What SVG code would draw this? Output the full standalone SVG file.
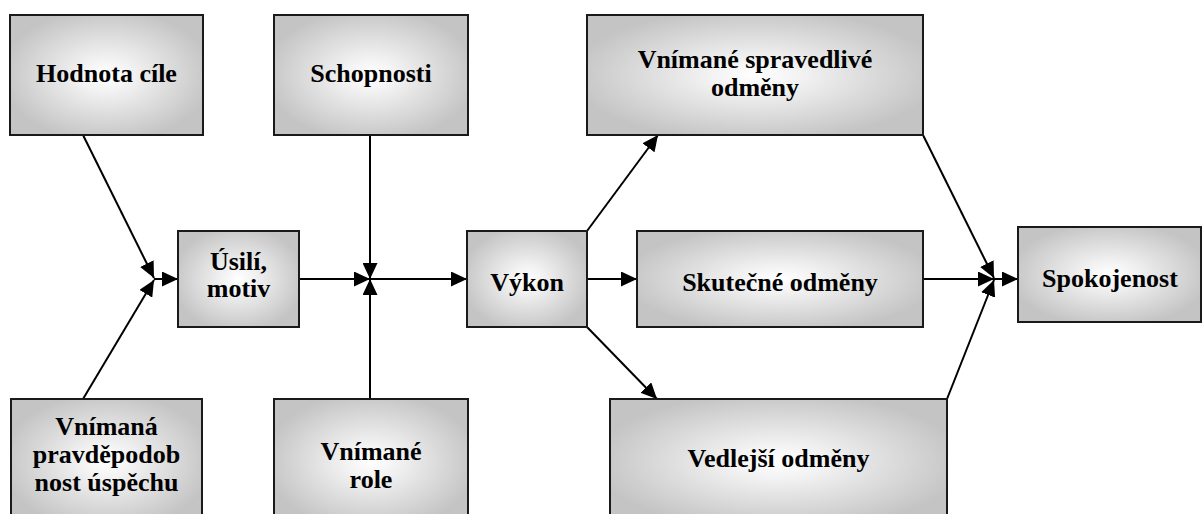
<svg xmlns="http://www.w3.org/2000/svg" width="1203" height="514" viewBox="0 0 1203 514">
  <style>
    .box { fill: url(#g); stroke: #1a1a1a; stroke-width: 2; }
    text { font-family: 'Liberation Serif', 'Tinos', 'Times New Roman', 'DejaVu Serif', serif; font-weight: 700; font-size: 26px; fill: #000; text-anchor: middle; }
    .c { stroke: #000; stroke-width: 2; fill: none; marker-end: url(#a); }
  </style>
  <defs>
    <radialGradient id="g" cx="0.5" cy="0.5" r="0.55">
      <stop offset="0" stop-color="#ffffff"/>
      <stop offset="0.25" stop-color="#f2f2f2"/>
      <stop offset="1" stop-color="#c4c4c4"/>
    </radialGradient>
    <marker id="a" markerUnits="userSpaceOnUse" markerWidth="16" markerHeight="15" refX="16" refY="7.5" orient="auto">
      <path d="M0,0 L16,7.5 L0,15 z" fill="#000"/>
    </marker>
  </defs>

  <g id="connectors">
    <line class="c" x1="83" y1="135" x2="154" y2="278"/>
    <line class="c" x1="83" y1="399" x2="154" y2="280"/>
    <line class="c" x1="154" y1="279" x2="178" y2="279"/>
    <line class="c" x1="299" y1="279" x2="370" y2="279"/>
    <line class="c" x1="370" y1="135" x2="370" y2="279"/>
    <line class="c" x1="370" y1="399" x2="370" y2="279"/>
    <line class="c" x1="370" y1="279" x2="467" y2="279"/>
    <line class="c" x1="587" y1="231" x2="658" y2="135"/>
    <line class="c" x1="587" y1="279" x2="637" y2="279"/>
    <line class="c" x1="587" y1="327" x2="657" y2="399"/>
    <line class="c" x1="923" y1="135" x2="994" y2="278"/>
    <line class="c" x1="923" y1="279" x2="994" y2="279"/>
    <line class="c" x1="947" y1="399" x2="994" y2="280"/>
    <line class="c" x1="994" y1="279" x2="1018" y2="279"/>
  </g>

  <g id="hodnota-cile">
    <rect class="box" x="10" y="15" width="193" height="120"/>
    <text x="106.5" y="82">Hodnota cíle</text>
  </g>
  <g id="schopnosti">
    <rect class="box" x="274" y="15" width="194" height="120"/>
    <text x="371" y="82">Schopnosti</text>
  </g>
  <g id="vnimane-spravedlive-odmeny">
    <rect class="box" x="587" y="15" width="336" height="120"/>
    <text x="755" y="68">Vnímané spravedlivé</text>
    <text x="755" y="96">odměny</text>
  </g>
  <g id="usili-motiv">
    <rect class="box" x="178" y="231" width="121" height="96"/>
    <text x="238.5" y="270">Úsilí,</text>
    <text x="238.5" y="297">motiv</text>
  </g>
  <g id="vykon">
    <rect class="box" x="467" y="231" width="120" height="96"/>
    <text x="527" y="291">Výkon</text>
  </g>
  <g id="skutecne-odmeny">
    <rect class="box" x="637" y="231" width="286" height="96"/>
    <text x="780" y="291">Skutečné odměny</text>
  </g>
  <g id="spokojenost">
    <rect class="box" x="1018" y="227" width="183" height="95"/>
    <text x="1110" y="287">Spokojenost</text>
  </g>
  <g id="vnimana-pravdepodobnost-uspechu">
    <rect class="box" x="11" y="399" width="191" height="125"/>
    <text x="106.5" y="435">Vnímaná</text>
    <text x="106.5" y="463">pravděpodob</text>
    <text x="106.5" y="491">nost úspěchu</text>
  </g>
  <g id="vnimane-role">
    <rect class="box" x="274" y="399" width="194" height="125"/>
    <text x="371" y="460">Vnímané</text>
    <text x="371" y="488">role</text>
  </g>
  <g id="vedlejsi-odmeny">
    <rect class="box" x="610" y="399" width="337" height="125"/>
    <text x="778.5" y="467">Vedlejší odměny</text>
  </g>
</svg>
